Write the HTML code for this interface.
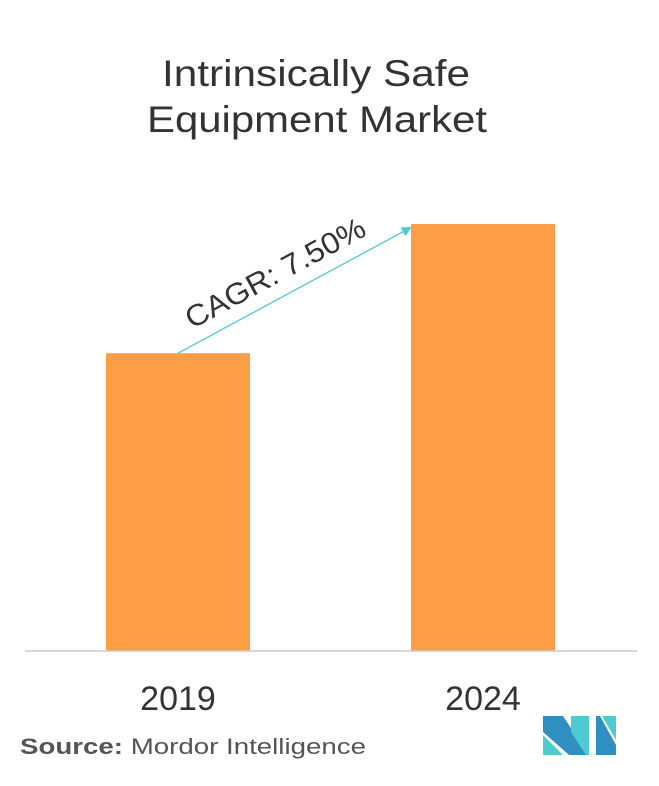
<!DOCTYPE html>
<html><head><meta charset="utf-8"><style>
body{margin:0;background:#fff;width:659px;height:781px;overflow:hidden;font-family:"Liberation Sans",sans-serif}
</style></head><body>
<svg id="chart" width="659" height="781" xmlns="http://www.w3.org/2000/svg">
<text x="162" y="86" textLength="308" lengthAdjust="spacingAndGlyphs" font-size="37" fill="#333">Intrinsically Safe</text>
<text x="147" y="132" textLength="340" lengthAdjust="spacingAndGlyphs" font-size="37" fill="#333">Equipment Market</text>
<g id="bars"></g>
<line x1="25" y1="651" x2="637" y2="651" stroke="#ccc" stroke-width="1.5"/>
<defs><marker id="ah" markerWidth="10" markerHeight="10" refX="8" refY="5" orient="auto" markerUnits="userSpaceOnUse"><path d="M0,0 L10,5 L0,10 z" fill="#4ecbd0"/></marker></defs>
<line id="arrow" stroke="#4ecbd0" stroke-width="1.3" marker-end="url(#ah)"/>
<text x="-100" y="0" font-size="30" fill="#333" textLength="200" lengthAdjust="spacingAndGlyphs" transform="translate(280,282) rotate(-28.3)">CAGR: 7.50%</text>
<text x="20" y="754" font-size="22" fill="#555" textLength="346" lengthAdjust="spacingAndGlyphs"><tspan font-weight="bold">Source:</tspan> Mordor Intelligence</text>
<g>
<polygon points="543,716 563,716 589,755 569,755 543,732" fill="#2e8fc0"/>
<polygon points="543,735 563,755 543,755" fill="#4ecbd0"/>
<polygon points="571,716 589,716 589,755 586,755 571,732" fill="#4ecbd0"/>
<polygon points="596,716 600,716 616,745 616,755 596,755" fill="#2e8fc0"/>
<polygon points="602,716 616,716 616,740" fill="#4ecbd0"/>
</g>
</svg>
<script>
const categories=["2019","2024"];
const values=[2.79,4.0];
const centers=[178,483];
const baseY=651, maxV=4.0, maxH=427, barW=144;
function yScale(v){return baseY-v/maxV*maxH;}
const g=document.getElementById('bars');
const ns="http://www.w3.org/2000/svg";
categories.forEach((c,i)=>{
  const r=document.createElementNS(ns,'rect');
  r.setAttribute('x',centers[i]-barW/2);
  r.setAttribute('y',yScale(values[i]));
  r.setAttribute('width',barW);
  r.setAttribute('height',baseY-yScale(values[i]));
  r.setAttribute('fill','#fd9d45');
  
  
  g.appendChild(r);
  const t=document.createElementNS(ns,'text');
  t.setAttribute('x',centers[i]);
  t.setAttribute('y',710);
  t.setAttribute('text-anchor','middle');
  t.setAttribute('font-size','34');
  t.setAttribute('fill','#333');
  t.textContent=c;
  
  
  g.appendChild(t);
});
const a=document.getElementById('arrow');
a.setAttribute('x1',centers[0]);a.setAttribute('y1',yScale(values[0]));
a.setAttribute('x2',centers[1]-73);a.setAttribute('y2',yScale(values[1])+4);
</script>
</body></html>
